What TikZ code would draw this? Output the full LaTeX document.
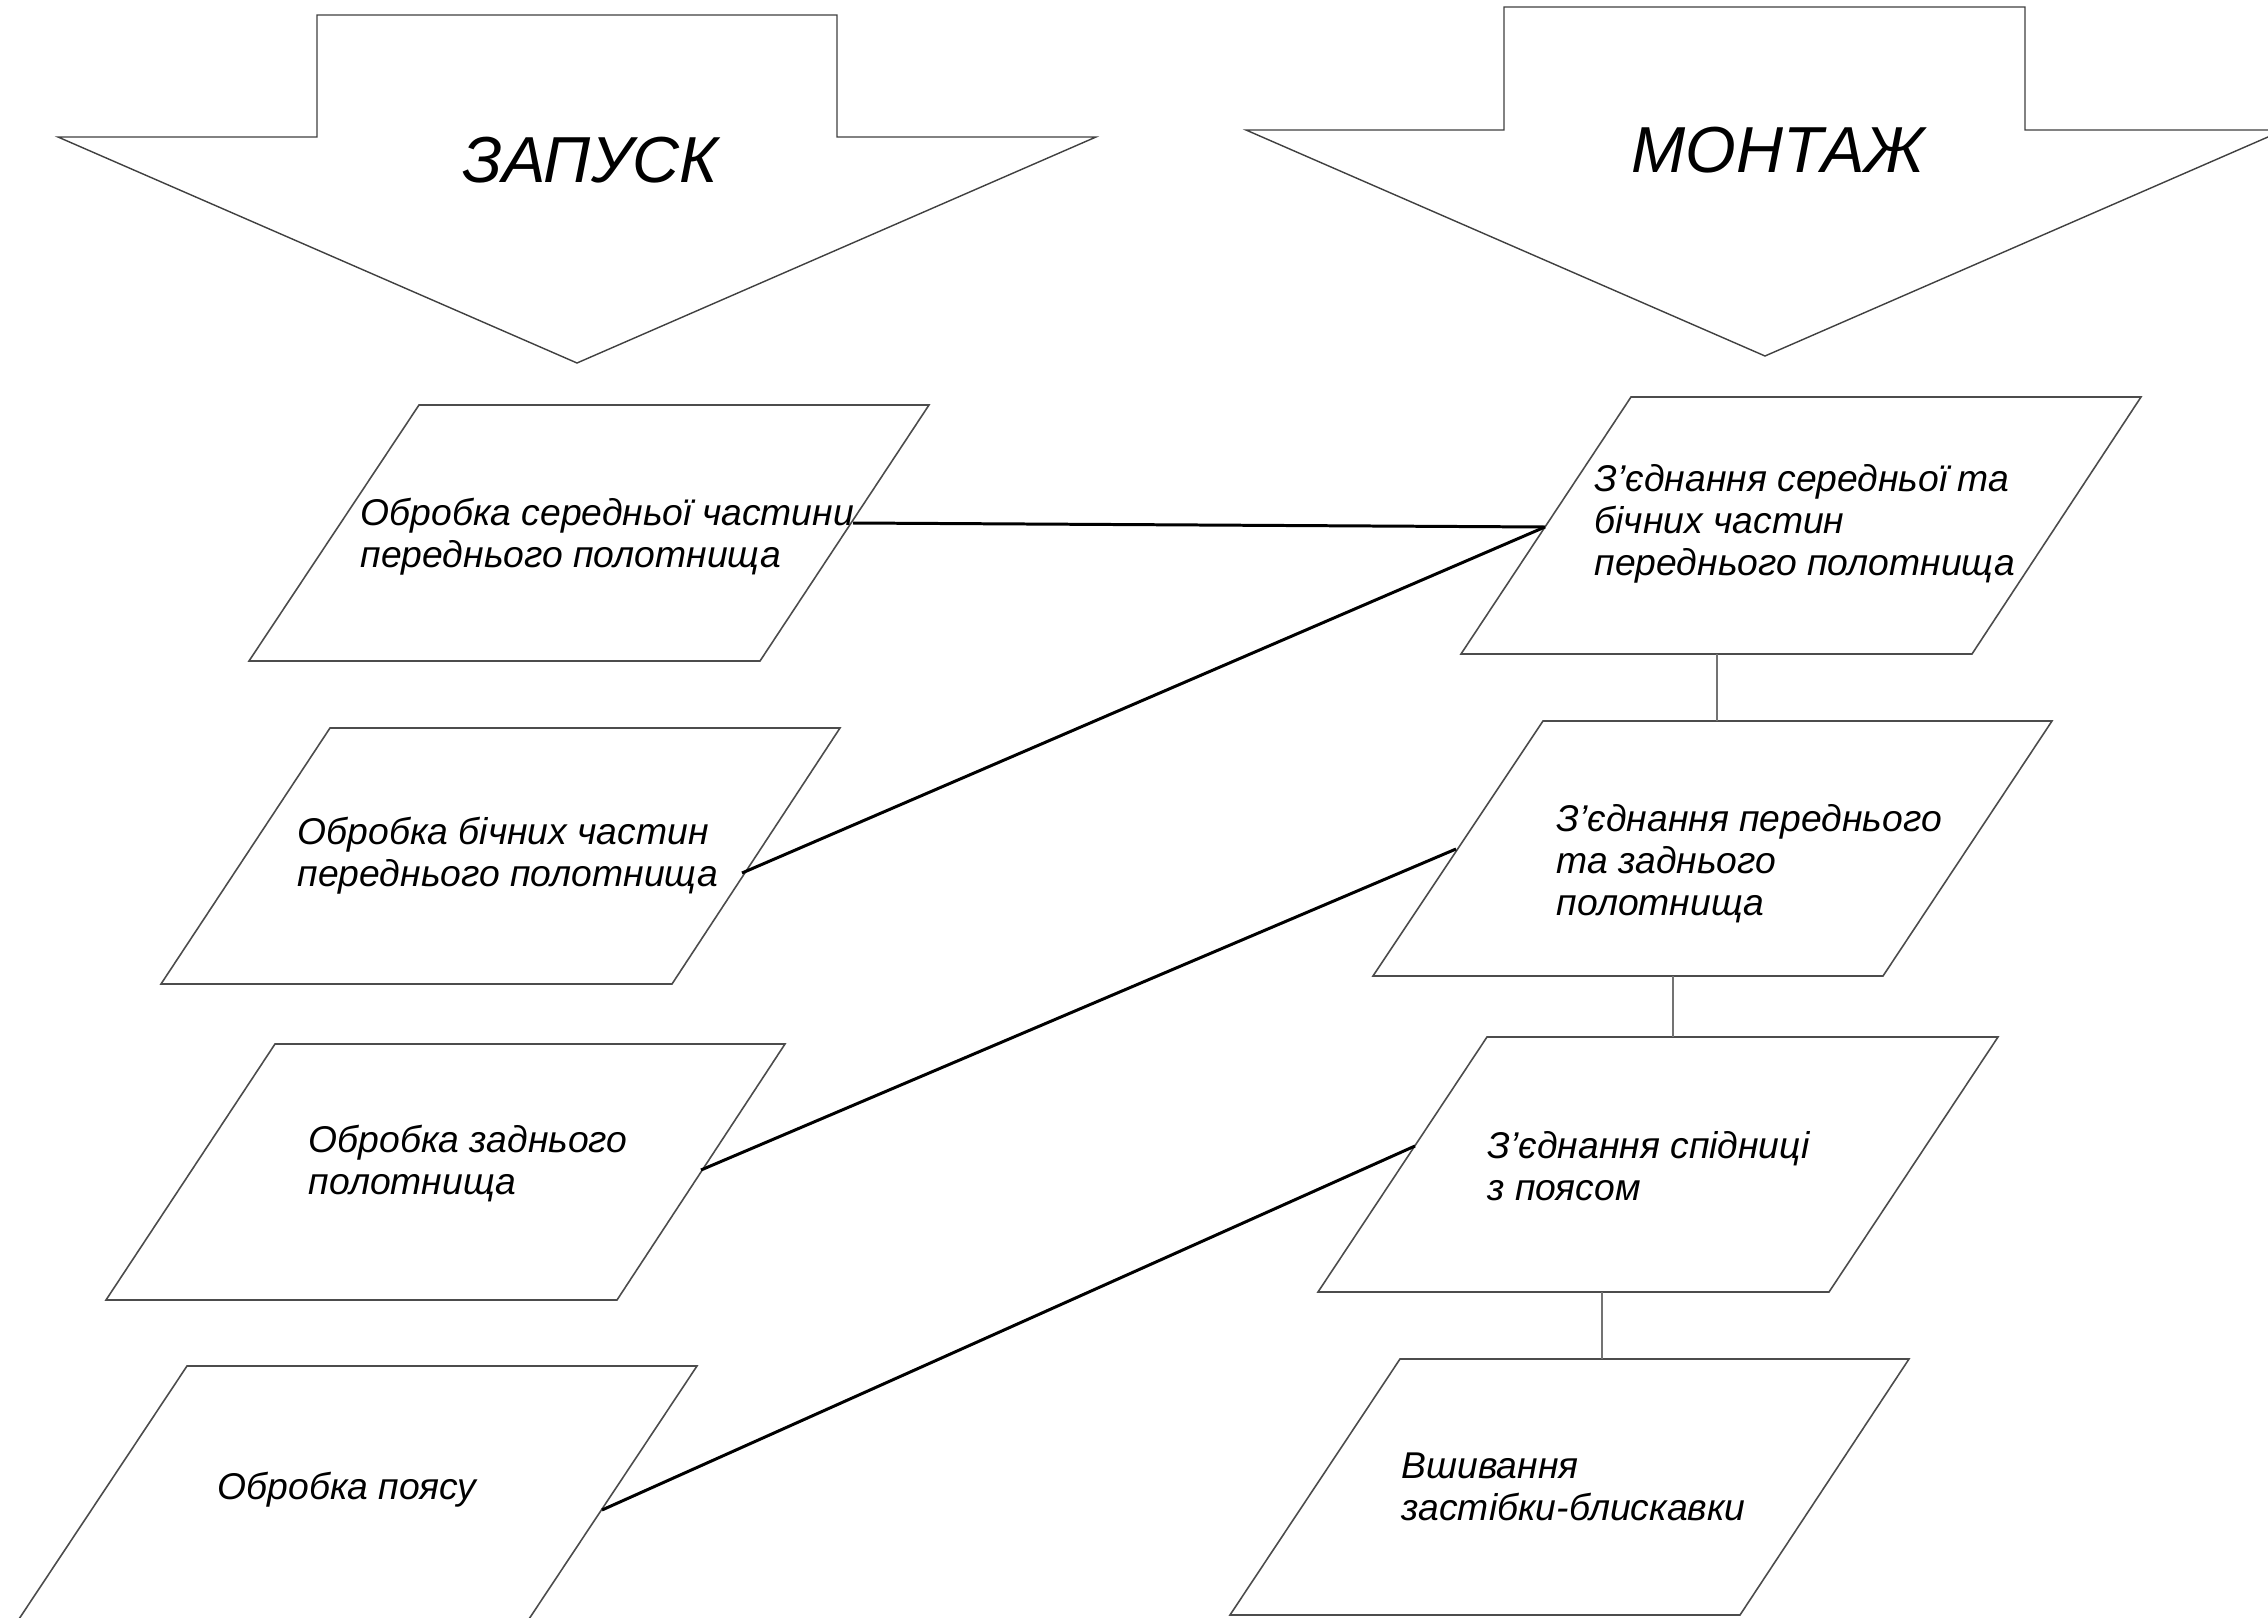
\documentclass[tikz,border=0pt]{standalone}
\usepackage{fontspec}
\setmainfont{Liberation Sans}
\begin{document}
\begin{tikzpicture}[x=0.01cm,y=-0.01cm,
  box/.style={draw=black!70, line width=0.45pt, line join=miter},
  conn/.style={draw=black, line width=0.85pt},
  vconn/.style={draw=black!55, line width=0.6pt},
  bigarrow/.style={draw=black!75, line width=0.4pt, line join=miter},
  lbl/.style={inner sep=0pt, anchor=west, align=left, yshift=-0.05cm, font=\fontsize{10.6pt}{11.95pt}\selectfont\itshape},
  ttl/.style={inner sep=0pt, font=\fontsize{18.5pt}{22pt}\selectfont\itshape}]
\useasboundingbox (0,0) rectangle (2268,1618);
\fill[white] (0,0) rectangle (2268,1618);
\clip (0,0) rectangle (2268,1618);

% big arrows
\draw[bigarrow] (317,15) -- (837,15) -- (837,137) -- (1096,137) -- (577,363) -- (58,137) -- (317,137) -- cycle;
\draw[bigarrow] (1504,7) -- (2025,7) -- (2025,130) -- (2284,130) -- (1765,356) -- (1246,130) -- (1504,130) -- cycle;
\node[ttl] (zapusk) at (590,160) {ЗАПУСК};
\node[ttl] (montazh) at (1778,150) {МОНТАЖ};

% left column boxes
\draw[box] (419,405) -- (929,405) -- (760,661) -- (249,661) -- cycle;
\draw[box] (330,728) -- (840,728) -- (672,984) -- (161,984) -- cycle;
\draw[box] (275,1044) -- (785,1044) -- (617,1300) -- (106,1300) -- cycle;
\draw[box] (187,1366) -- (697,1366) -- (527,1622) -- (17,1622) -- cycle;

% right column boxes
\draw[box] (1631,397) -- (2141,397) -- (1972,654) -- (1461,654) -- cycle;
\draw[box] (1543,721) -- (2052,721) -- (1883,976) -- (1373,976) -- cycle;
\draw[box] (1487,1037) -- (1998,1037) -- (1829,1292) -- (1318,1292) -- cycle;
\draw[box] (1400,1359) -- (1909,1359) -- (1740,1615) -- (1230,1615) -- cycle;

% texts
\node[lbl] (tL1) at (360,532) {Обробка середньої частини\\переднього полотнища};
\node[lbl] (tL2) at (297,851) {Обробка бічних частин\\переднього полотнища};
\node[lbl] (tL3) at (308,1159) {Обробка заднього\\полотнища};
\node[lbl] (tL4) at (217,1485) {Обробка поясу};
\node[lbl] (tR1) at (1594,519) {З’єднання середньої та\\бічних частин\\переднього полотнища};
\node[lbl] (tR2) at (1556,859) {З’єднання переднього\\та заднього\\полотнища};
\node[lbl] (tR3) at (1487,1161) {З’єднання спідниці\\з поясом};
\node[lbl] (tR4) at (1401,1482) {Вшивання\\застібки-блискавки};

% connector end points
\coordinate (L1r) at (853,523);
\coordinate (L2r) at (742,873);
\coordinate (L3r) at (701,1170);
\coordinate (L4r) at (602,1510);
\coordinate (R1l) at (1545,527);
\coordinate (R2l) at (1456,849);
\coordinate (R3l) at (1415,1146);
\coordinate (R1b) at (1717,654);
\coordinate (R2t) at (1717,721);
\coordinate (R2b) at (1673,976);
\coordinate (R3t) at (1673,1037);
\coordinate (R3b) at (1602,1292);
\coordinate (R4t) at (1602,1359);

\draw[conn] (L1r) -- (R1l);
\draw[conn] (L2r) -- (R1l);
\draw[conn] (L3r) -- (R2l);
\draw[conn] (L4r) -- (R3l);
\draw[vconn] (R1b) -- (R2t);
\draw[vconn] (R2b) -- (R3t);
\draw[vconn] (R3b) -- (R4t);
\end{tikzpicture}
\end{document}
